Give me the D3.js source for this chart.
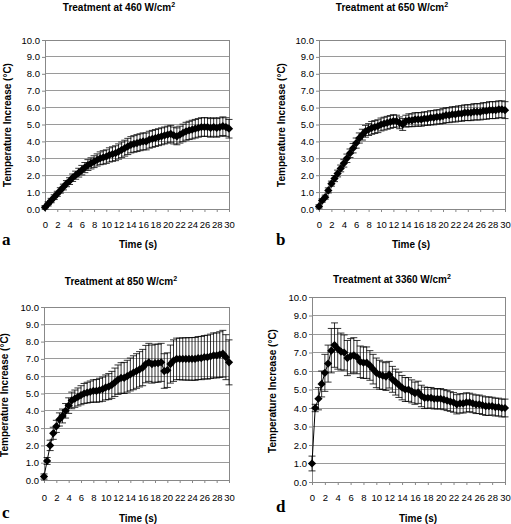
<!DOCTYPE html>
<html><head><meta charset="utf-8">
<script src="https://cdn.jsdelivr.net/npm/d3@7"></script>
<style>body{margin:0;background:#fff}svg{display:block}</style>
</head><body>
<script>
// ---- data ----
const times = [0,0.5,1,1.5,2,2.5,3,3.5,4,4.5,5,5.5,6,6.5,7,7.5,8,8.5,9,9.5,10,10.5,11,11.5,12,12.5,13,13.5,14,14.5,15,15.5,16,16.5,17,17.5,18,18.5,19,19.5,20,20.5,21,21.5,22,22.5,23,23.5,24,24.5,25,25.5,26,26.5,27,27.5,28,28.5,29,29.5,30];
const xTicks = [0,2,4,6,8,10,12,14,16,18,20,22,24,26,28,30];
const yTicks = [0,1,2,3,4,5,6,7,8,9,10];
const powers = ["460","650","850","3360"];
const letters = ["a","b","c","d"];

const valsA = [0.1,0.3,0.5,0.7,0.9,1.1,1.3,1.5,1.65,1.85,2.0,2.15,2.3,2.45,2.6,2.7,2.8,2.9,3.0,3.05,3.1,3.2,3.25,3.3,3.4,3.5,3.6,3.7,3.8,3.85,3.9,3.95,4.0,4.0,4.1,4.15,4.2,4.25,4.3,4.35,4.4,4.45,4.35,4.3,4.4,4.5,4.6,4.65,4.7,4.75,4.8,4.85,4.85,4.85,4.8,4.85,4.8,4.85,4.9,4.85,4.75];
const errA  = [0.1,0.12,0.13,0.14,0.15,0.16,0.17,0.18,0.2,0.22,0.24,0.26,0.28,0.3,0.32,0.33,0.35,0.36,0.38,0.4,0.4,0.42,0.43,0.44,0.45,0.46,0.47,0.48,0.48,0.49,0.5,0.5,0.5,0.5,0.5,0.5,0.5,0.5,0.5,0.5,0.5,0.5,0.5,0.5,0.5,0.52,0.53,0.54,0.55,0.55,0.55,0.55,0.55,0.55,0.55,0.55,0.55,0.55,0.55,0.55,0.55];

const valsB = [0.15,0.5,0.7,1.1,1.5,1.8,2.1,2.4,2.7,3.0,3.3,3.6,3.9,4.2,4.4,4.6,4.7,4.8,4.85,4.9,5.0,5.05,5.1,5.15,5.2,5.2,5.1,5.0,5.2,5.25,5.25,5.3,5.3,5.3,5.35,5.35,5.4,5.4,5.45,5.45,5.5,5.55,5.55,5.6,5.6,5.65,5.65,5.7,5.7,5.7,5.75,5.75,5.75,5.8,5.8,5.85,5.85,5.85,5.9,5.9,5.85];
const errB  = [0.1,0.1,0.12,0.15,0.15,0.18,0.2,0.2,0.22,0.25,0.25,0.28,0.3,0.3,0.32,0.35,0.35,0.38,0.38,0.38,0.38,0.38,0.38,0.38,0.38,0.35,0.35,0.35,0.35,0.38,0.38,0.4,0.4,0.4,0.4,0.4,0.42,0.42,0.42,0.42,0.44,0.44,0.44,0.45,0.45,0.45,0.46,0.46,0.47,0.47,0.48,0.48,0.48,0.49,0.49,0.5,0.5,0.5,0.5,0.5,0.5];

const valsC = [0.2,1.1,2.0,2.7,3.1,3.5,3.7,4.0,4.3,4.6,4.7,4.8,4.9,5.0,5.05,5.1,5.15,5.15,5.2,5.25,5.35,5.4,5.5,5.65,5.8,5.9,5.9,6.0,6.1,6.2,6.3,6.4,6.5,6.7,6.8,6.7,6.75,6.75,6.8,6.3,6.35,6.7,6.9,7.0,7.0,7.0,7.0,7.0,7.0,7.0,7.05,7.05,7.1,7.1,7.15,7.2,7.2,7.25,7.3,7.1,6.8];
const errC  = [0.15,0.2,0.3,0.35,0.35,0.38,0.4,0.42,0.45,0.48,0.5,0.52,0.55,0.58,0.6,0.62,0.64,0.66,0.68,0.7,0.72,0.75,0.78,0.82,0.85,0.88,0.9,0.92,0.95,0.98,1.0,1.02,1.05,1.08,1.1,1.1,1.1,1.1,1.1,1.0,1.0,1.1,1.2,1.2,1.2,1.22,1.22,1.23,1.23,1.24,1.24,1.25,1.25,1.27,1.28,1.3,1.3,1.32,1.35,1.3,1.3];

const valsD = [1.0,4.0,4.5,5.3,5.9,6.4,7.1,7.4,7.2,7.05,7.0,6.7,6.8,6.85,6.75,6.5,6.45,6.45,6.3,6.1,5.9,5.8,5.75,5.7,5.8,5.55,5.4,5.25,5.1,5.0,5.0,4.9,4.8,4.85,4.65,4.55,4.55,4.55,4.5,4.5,4.5,4.45,4.4,4.35,4.3,4.2,4.25,4.25,4.3,4.3,4.25,4.2,4.2,4.15,4.1,4.1,4.1,4.05,4.05,4.0,4.0];
const errD  = [0.4,0.2,0.6,0.7,1.0,1.0,1.2,1.2,1.1,1.0,0.95,0.95,0.95,0.95,0.9,0.85,0.85,0.85,0.8,0.8,0.8,0.78,0.75,0.75,0.72,0.7,0.7,0.68,0.66,0.65,0.64,0.62,0.6,0.6,0.58,0.58,0.56,0.56,0.55,0.55,0.55,0.54,0.54,0.53,0.53,0.52,0.52,0.52,0.52,0.5,0.5,0.5,0.5,0.5,0.5,0.5,0.48,0.48,0.48,0.48,0.48];

const seriesVals = [valsA, valsB, valsC, valsD];
const seriesErr  = [errA, errB, errC, errD];

// ---- layout ----
const layout = [
  {l:45, r:229, t:40, b:209, titleX:119, titleY:11, ylabX:11, ylabY:125, tickY:228, timeX:138, timeY:248, letX:2, letY:245},
  {l:319, r:505, t:40, b:209, titleX:392, titleY:11, ylabX:285, ylabY:125, tickY:228, timeX:411, timeY:248, letX:276, letY:245},
  {l:44, r:229, t:307, b:480, titleX:121, titleY:285, ylabX:8, ylabY:395, tickY:501, timeX:138, timeY:522, letX:2, letY:518},
  {l:312, r:505, t:297, b:482, titleX:392, titleY:283, ylabX:276, ylabY:391, tickY:501, timeX:418, timeY:522, letX:276, letY:512}
];

const svg = d3.select("body").append("svg").attr("width",511).attr("height",524);
const font = "'Liberation Sans', Arial, sans-serif";
const sq = d3.symbol().type(d3.symbolSquare).size(34);

layout.forEach((L,i)=>{
  const g = svg.append("g");
  const x = d3.scaleLinear().domain([0,30]).range([L.l,L.r]);
  const y = d3.scaleLinear().domain([0,10]).range([L.b,L.t]);

  // gridlines
  g.selectAll(".grid").data(yTicks.slice(1)).join("line")
    .attr("x1",L.l).attr("x2",L.r).attr("y1",d=>y(d)).attr("y2",d=>y(d))
    .attr("stroke","#9a9a9a").attr("stroke-width",1).attr("shape-rendering","crispEdges");
  // frame
  g.append("rect").attr("x",L.l).attr("y",L.t).attr("width",L.r-L.l).attr("height",L.b-L.t)
    .attr("fill","none").attr("stroke","#888").attr("shape-rendering","crispEdges");

  // axes
  const ax = g.append("g").attr("transform",`translate(0,${L.b})`)
    .call(d3.axisBottom(x).tickValues(xTicks).tickSize(3).tickPadding(2).tickFormat(d3.format("d")));
  ax.select(".domain").attr("stroke","#888");
  ax.selectAll(".tick line").attr("stroke","#888");
  ax.selectAll("text").attr("font-family",font).attr("font-size","9.5px").attr("fill","#000")
    .attr("y", L.tickY - L.b).attr("dy",0);

  const ay = g.append("g").attr("transform",`translate(${L.l},0)`)
    .call(d3.axisLeft(y).tickValues(yTicks).tickSize(3).tickPadding(2).tickFormat(d3.format(".1f")));
  ay.select(".domain").attr("stroke","#888");
  ay.selectAll(".tick line").attr("stroke","#888");
  ay.selectAll("text").attr("font-family",font).attr("font-size","9.5px").attr("fill","#000");

  const data = times.map((t,k)=>({t, v:seriesVals[i][k], e:seriesErr[i][k]}));

  // error bars
  const eb = g.append("g").attr("stroke","#000").attr("stroke-width",0.8);
  eb.selectAll(".v").data(data).join("line")
    .attr("x1",d=>x(d.t)).attr("x2",d=>x(d.t)).attr("y1",d=>y(d.v-d.e)).attr("y2",d=>y(d.v+d.e));
  eb.selectAll(".ct").data(data).join("line")
    .attr("x1",d=>x(d.t)-3.5).attr("x2",d=>x(d.t)+3.5).attr("y1",d=>y(d.v+d.e)).attr("y2",d=>y(d.v+d.e));
  eb.selectAll(".cb").data(data).join("line")
    .attr("x1",d=>x(d.t)-3.5).attr("x2",d=>x(d.t)+3.5).attr("y1",d=>y(d.v-d.e)).attr("y2",d=>y(d.v-d.e));

  // line
  g.append("path").datum(data)
    .attr("d",d3.line().x(d=>x(d.t)).y(d=>y(d.v)))
    .attr("fill","none").attr("stroke","#000").attr("stroke-width",1);

  // markers
  g.selectAll(".m").data(data).join("path")
    .attr("d",sq).attr("transform",d=>`translate(${x(d.t)},${y(d.v)}) rotate(45)`)
    .attr("fill","#000");

  // title
  const tt = g.append("text").attr("x",L.titleX).attr("y",L.titleY).attr("text-anchor","middle")
    .attr("font-family",font).attr("font-weight","bold").attr("font-size","10px");
  tt.append("tspan").text(`Treatment at ${powers[i]} W/cm`);
  tt.append("tspan").text("2").attr("font-size","7px").attr("dy",-4);

  // y label
  g.append("text").attr("transform",`translate(${L.ylabX},${L.ylabY}) rotate(-90)`)
    .attr("text-anchor","middle").attr("font-family",font).attr("font-weight","bold").attr("font-size","10px")
    .text("Temperature Increase (°C)");

  // x label
  g.append("text").attr("x",L.timeX).attr("y",L.timeY).attr("text-anchor","middle")
    .attr("font-family",font).attr("font-weight","bold").attr("font-size","10px").text("Time (s)");

  // letter
  g.append("text").attr("x",L.letX).attr("y",L.letY)
    .attr("font-family","'Liberation Serif', 'Times New Roman', serif").attr("font-weight","bold").attr("font-size","17px")
    .text(letters[i]);
});
</script>
</body></html>
